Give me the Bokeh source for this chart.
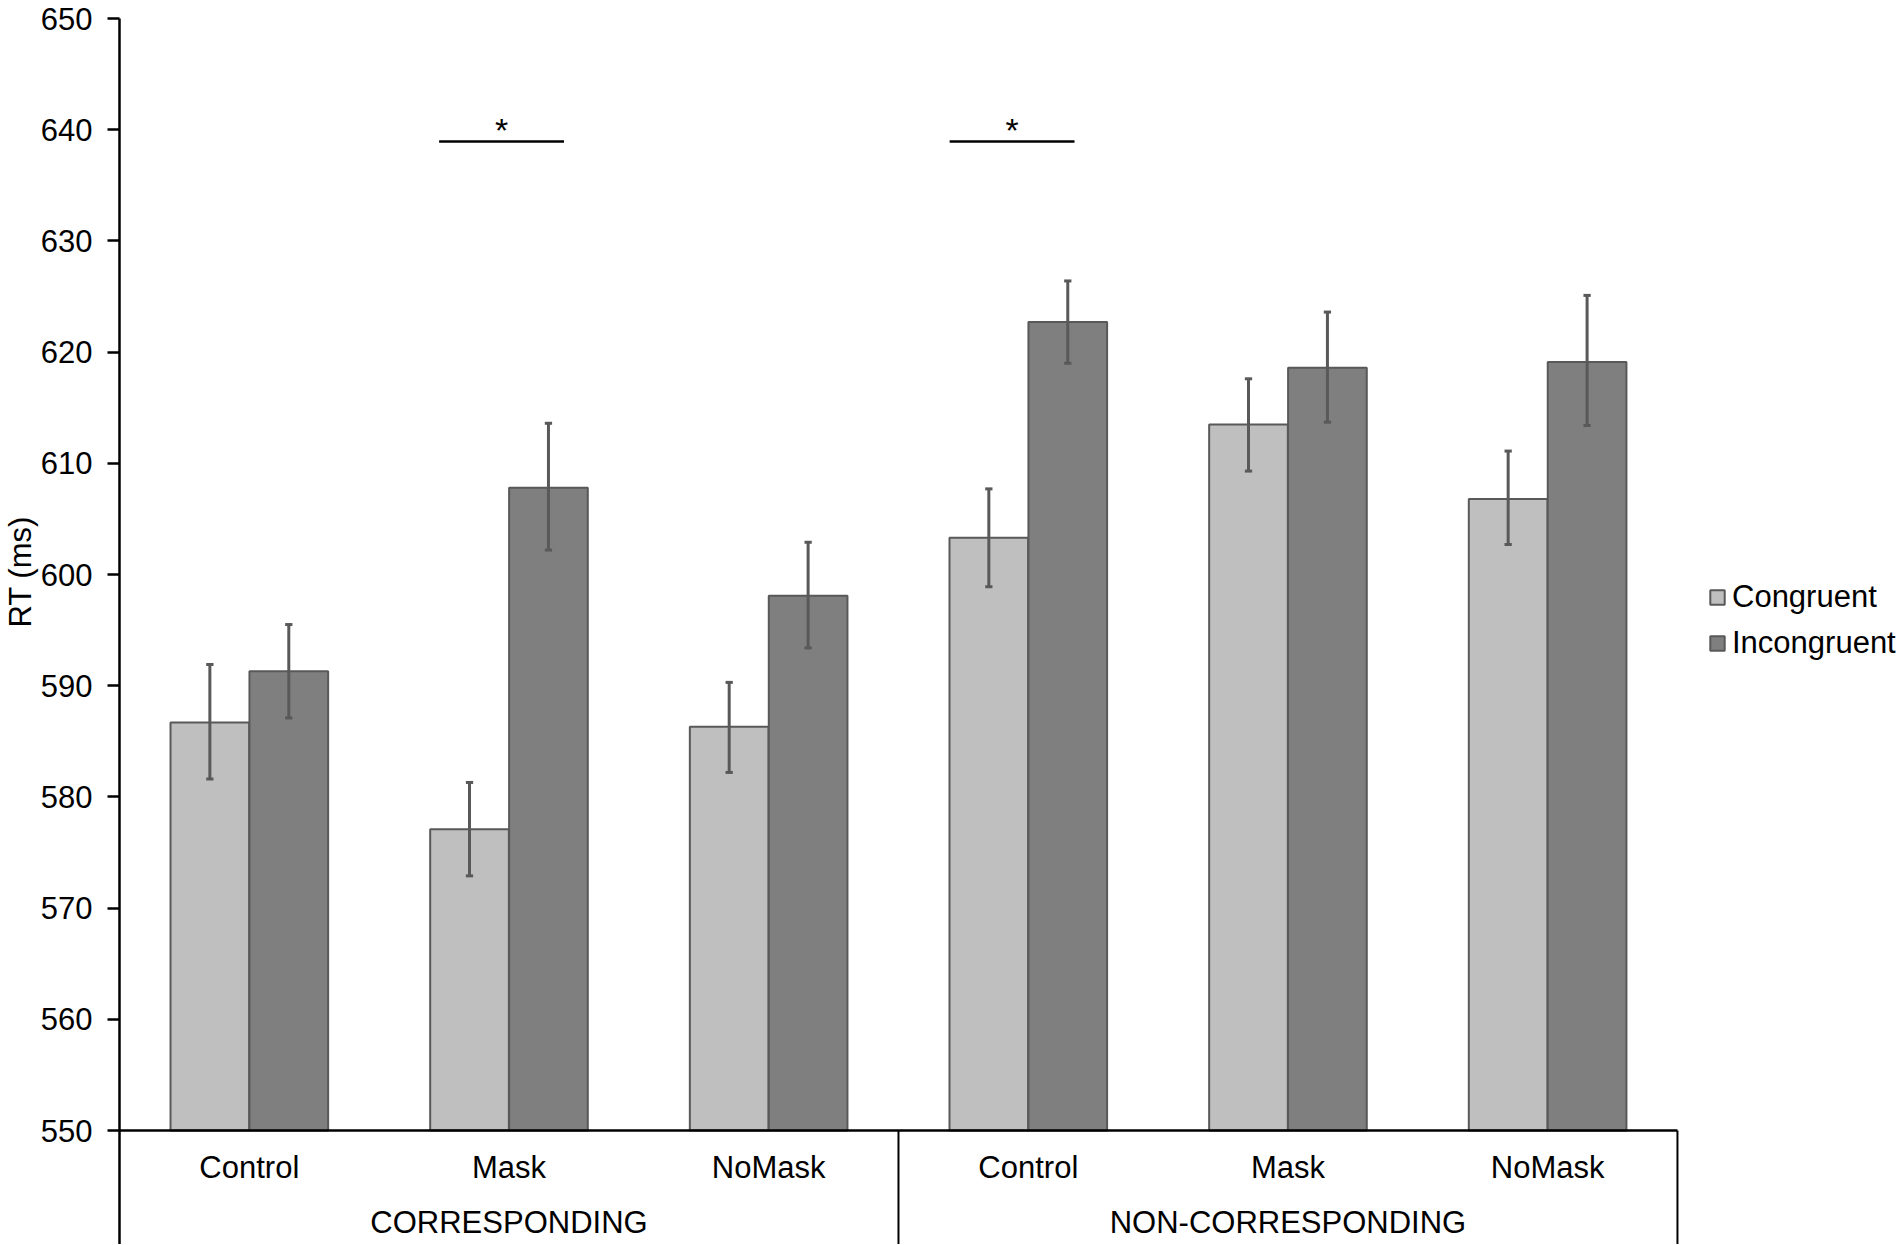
from bokeh.plotting import figure
from bokeh.models import ColumnDataSource, Range1d, FixedTicker, Legend, LegendItem, Title
from bokeh.core.properties import value
from bokeh.embed import file_html
from bokeh.resources import INLINE

# ---- data ----
categories = ["Control", "Mask", "NoMask", "Control", "Mask", "NoMask"]
groups = ["CORRESPONDING", "NON-CORRESPONDING"]
series_names = ["Congruent", "Incongruent"]
congruent = [586.7, 577.1, 586.3, 603.3, 613.5, 606.8]
congruent_lo = [581.6, 572.9, 582.2, 598.9, 609.3, 602.7]
congruent_hi = [591.9, 581.3, 590.3, 607.7, 617.6, 611.1]
incongruent = [591.3, 607.8, 598.1, 622.7, 618.6, 619.1]
incongruent_lo = [587.1, 602.2, 593.4, 619.0, 613.7, 613.4]
incongruent_hi = [595.5, 613.6, 602.9, 626.4, 623.6, 625.1]
y_ticks = [550, 560, 570, 580, 590, 600, 610, 620, 630, 640, 650]
# significance brackets: (start, end) in category units, at RT level
sig_start = [1.231, 3.197]
sig_end = [1.712, 3.678]
sig_level = [638.95, 638.95]
sig_text = ["*", "*"]

FONT = "Liberation Sans"
FS = "31px"
BASE = 550
YMIN = 539.75
OFF = 0.152
BW = 0.303
H = 1244

p = figure(width=1900, height=H, output_backend="svg", toolbar_location=None,
           x_range=Range1d(0, 6.859), y_range=Range1d(YMIN, 650),
           x_axis_location=None, y_axis_location="left",
           min_border_left=118, min_border_right=0, min_border_top=18, min_border_bottom=0)
p.outline_line_color = None
p.xgrid.visible = False
p.ygrid.visible = False
p.background_fill_color = "white"

yax = p.yaxis[0]
yax.ticker = FixedTicker(ticks=y_ticks)
yax.minor_tick_line_color = None
yax.major_tick_in = 0
yax.major_tick_out = 12
yax.major_tick_line_width = 2.5
yax.major_tick_line_color = "black"
yax.axis_line_width = 2.5
yax.axis_line_color = "black"
yax.major_label_text_font = FONT
yax.major_label_text_font_size = FS
yax.major_label_text_color = "black"
yax.major_label_standoff = 15

# y axis title, placed where the reference has it (starts ~627px from top)
p.add_layout(Title(text="RT (ms)", align="left", offset=H - 627, standoff=0,
                   text_font=FONT, text_font_size=FS, text_font_style="normal",
                   text_color="black"), "left")

n = len(categories)
idx = list(range(n))
src_c = ColumnDataSource(dict(x=[i + 0.5 - OFF for i in idx], top=congruent,
                              lo=congruent_lo, hi=congruent_hi))
src_i = ColumnDataSource(dict(x=[i + 0.5 + OFF for i in idx], top=incongruent,
                              lo=incongruent_lo, hi=incongruent_hi))

r_c = p.vbar(x="x", top="top", bottom=BASE, width=BW, source=src_c,
             fill_color="#BFBFBF", line_color="#595959", line_width=2)
r_i = p.vbar(x="x", top="top", bottom=BASE, width=BW, source=src_i,
             fill_color="#7F7F7F", line_color="#595959", line_width=2)

CAP = 0.014
for src in (src_c, src_i):
    d = src.data
    p.segment(x0=d["x"], x1=d["x"], y0=d["lo"], y1=d["hi"], line_color="#595959", line_width=3)
    p.segment(x0=[x - CAP for x in d["x"]], x1=[x + CAP for x in d["x"]], y0=d["hi"], y1=d["hi"],
              line_color="#595959", line_width=3)
    p.segment(x0=[x - CAP for x in d["x"]], x1=[x + CAP for x in d["x"]], y0=d["lo"], y1=d["lo"],
              line_color="#595959", line_width=3)

# category axis (baseline, separators, labels)
p.segment(x0=[0], x1=[n], y0=[BASE], y1=[BASE], line_color="black", line_width=2.5)
p.segment(x0=[3, 6], x1=[3, 6], y0=[BASE, BASE], y1=[YMIN, YMIN], line_color="black", line_width=2)
p.text(x=[i + 0.5 for i in idx], y=[546.67] * n, text=categories,
       text_font=value(FONT), text_font_size=value(FS), text_color="black",
       text_align="center", text_baseline="middle")
p.text(x=[1.5, 4.5], y=[541.7, 541.7], text=groups,
       text_font=value(FONT), text_font_size=value(FS), text_color="black",
       text_align="center", text_baseline="middle")

# significance markers
p.segment(x0=sig_start, x1=sig_end, y0=sig_level, y1=sig_level, line_color="black", line_width=2.5)
p.text(x=[(a + b) / 2 for a, b in zip(sig_start, sig_end)], y=[v + 1.05 for v in sig_level], text=sig_text,
       text_font=value(FONT), text_font_size=value("34px"), text_color="black",
       text_align="center", text_baseline="alphabetic")

legend = Legend(items=[LegendItem(label=series_names[0], renderers=[r_c]),
                       LegendItem(label=series_names[1], renderers=[r_i])],
                location=(1589, 581), orientation="vertical",
                glyph_width=18, glyph_height=18, label_height=40, spacing=6,
                label_standoff=6, padding=0, margin=0,
                border_line_color=None, background_fill_alpha=0,
                label_text_font=FONT, label_text_font_size=FS, label_text_color="black")
p.add_layout(legend)

open("out.html", "w").write(file_html(p, INLINE))
